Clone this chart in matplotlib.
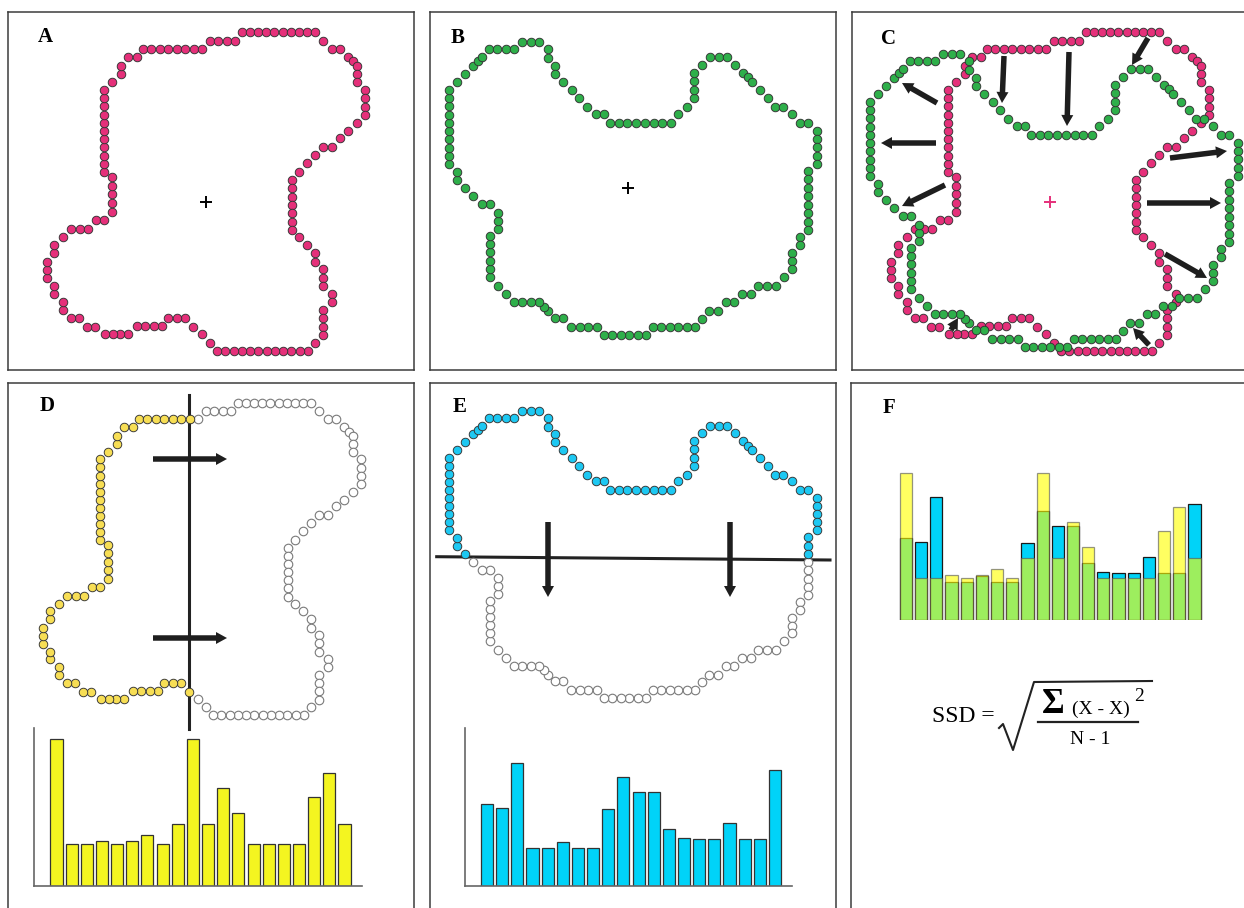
import numpy as np
import matplotlib.pyplot as plt

plt.rcParams['font.family'] = ['Liberation Serif', 'DejaVu Serif']

# outline of shape A, corner dots in panel pixels (y points down)
shape_a_x = [234, 307, 315, 324, 332, 340, 349, 349, 357, 357, 349, 340, 332, 324, 315, 307, 299, 291, 284, 284,
             291, 299, 307, 307, 315, 315, 324, 324, 315, 315, 307, 300, 209, 202, 194, 185, 177, 160, 154, 129,
             120, 97, 87, 79, 71, 63, 55, 55, 46, 46, 39, 39, 46, 46, 55, 63, 80, 88, 96, 104,
             104, 96, 96, 104, 113, 113, 120, 129, 135, 194, 202, 227]
shape_a_y = [20, 20, 29, 37, 37, 45, 54, 70, 78, 103, 111, 119, 126, 135, 135, 143, 151, 160, 168, 218,
             225, 233, 241, 250, 257, 274, 282, 290, 298, 323, 331, 339, 339, 331, 322, 315, 306, 306, 314, 314,
             322, 322, 315, 315, 306, 306, 298, 290, 282, 274, 266, 250, 241, 233, 225, 217, 217, 208, 208, 200,
             165, 160, 78, 70, 62, 54, 45, 45, 37, 37, 29, 29]

# outline of shape B
shape_b_x = [92, 109, 118, 118, 125, 125, 133, 142, 149, 157, 166, 174, 180, 241, 248, 257, 264, 264, 272, 280,
             297, 305, 313, 322, 330, 338, 345, 353, 362, 370, 378, 387, 387, 378, 378, 370, 370, 362, 362, 354,
             346, 328, 321, 312, 304, 296, 288, 279, 272, 265, 223, 216, 174, 167, 141, 133, 125, 118, 109, 84,
             76, 68, 60, 60, 68, 68, 60, 52, 43, 35, 27, 27, 19, 19, 27, 35, 43, 52, 59, 84]
shape_b_y = [30, 30, 37, 46, 54, 62, 70, 78, 86, 95, 102, 102, 111, 111, 102, 95, 86, 61, 53, 45,
             45, 53, 61, 70, 78, 86, 95, 95, 102, 111, 111, 119, 152, 159, 218, 225, 233, 241, 257, 265,
             274, 274, 282, 282, 290, 290, 299, 299, 307, 315, 315, 323, 323, 315, 315, 306, 306, 299, 290, 290,
             282, 274, 265, 224, 217, 201, 192, 192, 184, 176, 168, 160, 152, 78, 70, 62, 54, 45, 37, 37]

center_a = (198, 190)
center_b = (198, 176)

# width profiles (pixels) measured along the cut lines
profile_d = [147, 42, 42, 45, 42, 45, 51, 42, 62, 147, 62, 98, 73, 42, 42, 42, 42, 89, 113, 62]
profile_e = [82, 78, 123, 38, 38, 44, 38, 38, 77, 109, 94, 94, 57, 48, 47, 47, 63, 47, 47, 116]

# arrows in panel C: tail -> head
arrow_c_x0 = [152, 217, 296, 85, 84, 93, 318, 295, 313, 99, 297]
arrow_c_y0 = [44, 40, 26, 91, 131, 173, 146, 191, 242, 318, 333]
arrow_c_x1 = [150, 215, 280, 50, 29, 50, 375, 369, 355, 106, 281]
arrow_c_y1 = [91, 114, 53, 71, 131, 194, 139, 191, 266, 306, 316]

MAGENTA = '#E5307A'
GREEN = '#2EAF4A'
YELLOW_DOT = '#F7DE55'
CYAN_DOT = '#1DC8F2'
YELLOW_BAR = '#F4F520'
CYAN_BAR = '#00D3F8'

W, H = 1244, 908
fig = plt.figure(figsize=(W / 100, H / 100), dpi=100)


def panel(left, top, right, bottom, label, lx, ly):
    ax = fig.add_axes([left / W, 1 - bottom / H, (right - left) / W, (bottom - top) / H])
    ax.set_xlim(0, right - left)
    ax.set_ylim(bottom - top, 0)
    ax.set_xticks([])
    ax.set_yticks([])
    for s in ax.spines.values():
        s.set_color('#3c3c3c')
        s.set_linewidth(1.1)
    ax.text(lx, ly, label, fontsize=15, weight='bold', ha='center', va='center')
    return ax


def outline_dots(xs, ys, step=8.2):
    px, py = [], []
    n = len(xs)
    for i in range(n):
        x0, y0 = xs[i], ys[i]
        x1, y1 = xs[(i + 1) % n], ys[(i + 1) % n]
        k = max(1, int(round(np.hypot(x1 - x0, y1 - y0) / step)))
        for j in range(k):
            px.append(x0 + (x1 - x0) * j / k)
            py.append(y0 + (y1 - y0) * j / k)
    return np.array(px), np.array(py)


def dots(ax, x, y, face, edge='#333333', lw=0.65):
    ax.scatter(x, y, s=38, color=face, edgecolors=edge, linewidths=lw, zorder=3)


def arrow(ax, x0, y0, x1, y1):
    ax.arrow(x0, y0, x1 - x0, y1 - y0, width=5.5, head_width=12, head_length=11,
             length_includes_head=True, fc='#1e1e1e', ec='none', zorder=4)


ax_x, ax_y = outline_dots(shape_a_x, shape_a_y)
bx_x, bx_y = outline_dots(shape_b_x, shape_b_y)

# A
axA = panel(8, 12, 414, 370, 'A', 37, 25)
dots(axA, ax_x, ax_y, MAGENTA)
axA.plot(*center_a, marker='+', ms=8, mew=1.4, color='k')

# B
axB = panel(430, 12, 836, 370, 'B', 28, 26)
dots(axB, bx_x, bx_y, GREEN)
axB.plot(*center_b, marker='+', ms=8, mew=1.4, color='k')

# C: both outlines overlaid
axC = panel(852, 12, 1260, 370, 'C', 37, 27)
dots(axC, ax_x, ax_y, MAGENTA)
dots(axC, bx_x - 1, bx_y + 12, GREEN)
axC.plot(*center_a, marker='+', ms=8, mew=1.4, color=MAGENTA)
for i in range(len(arrow_c_x0)):
    arrow(axC, arrow_c_x0[i], arrow_c_y0[i], arrow_c_x1[i], arrow_c_y1[i])

# D: vertical sweep over shape A
axD = panel(8, 383, 414, 930, 'D', 39, 23)
dx, dy = ax_x - 4, ax_y * 0.98
left_side = dx < 184
dots(axD, dx[~left_side], dy[~left_side], 'white', edge='#7a7a7a', lw=0.8)
dots(axD, dx[left_side], dy[left_side], YELLOW_DOT)
axD.plot([181, 181], [12, 346], color='#222222', lw=2.2, zorder=2)
arrow(axD, 145, 76, 219, 76)
arrow(axD, 145, 255, 219, 255)

# E: horizontal sweep over shape B
axE = panel(430, 383, 836, 930, 'E', 30, 24)
ex, ey = bx_x, bx_y * 0.98 - 1.5
line_x = [6.7, 400]
line_y = [173.7, 177]
above = ey < np.interp(ex, line_x, line_y)
dots(axE, ex[~above], ey[~above], 'white', edge='#7a7a7a', lw=0.8)
dots(axE, ex[above], ey[above], CYAN_DOT)
axE.plot(line_x, line_y, color='#222222', lw=2.2, zorder=2)
arrow(axE, 118, 139, 118, 214)
arrow(axE, 300, 139, 300, 214)

# F
axF = panel(851, 383, 1260, 930, 'F', 38, 25)
axF.text(81, 333, 'SSD =', fontsize=17, ha='left', va='center')
axF.text(202, 321, '\u03a3', fontsize=25, weight='bold', ha='center', va='center')
axF.text(221, 326, '(X - X)', fontsize=14, ha='left', va='center')
axF.text(283, 313, '2', fontsize=14, ha='left', va='center')
axF.plot([187, 287], [339, 339], color='#222222', lw=1.6)
axF.text(239, 356, 'N - 1', fontsize=14, ha='center', va='center')
axF.plot([148, 152, 162, 183, 301], [345, 341, 367, 299, 298], color='#222222', lw=1.5)

idx = np.arange(len(profile_d))


def bar_axes(left, top, right, bottom, x0, x1, spines=True):
    ax = fig.add_axes([left / W, 1 - bottom / H, (right - left) / W, (bottom - top) / H])
    ax.set_xlim(x0, x1)
    ax.set_ylim(0, bottom - top)
    ax.patch.set_alpha(0)
    ax.set_xticks([])
    ax.set_yticks([])
    for name, s in ax.spines.items():
        if spines and name in ('left', 'bottom'):
            s.set_color('#666666')
            s.set_linewidth(1.2)
        else:
            s.set_visible(False)
    return ax


bD = bar_axes(34, 728, 362, 886, -1.48, 20.15)
bD.bar(idx, profile_d, width=0.8, color=YELLOW_BAR, edgecolor='#333333', linewidth=0.9)

bE = bar_axes(465, 728, 792, 886, -1.45, 20.12)
bE.bar(idx, profile_e, width=0.8, color=CYAN_BAR, edgecolor='#333333', linewidth=0.9)

bF = bar_axes(880, 460, 1220, 620, -1.71, 20.68, spines=False)
bF.bar(idx, profile_e, width=0.8, color=CYAN_BAR, edgecolor='#1a1a1a', linewidth=0.9)
bF.bar(idx, profile_d, width=0.8, color='#FFFF00', alpha=0.62, edgecolor='#555555', linewidth=0.9)

fig.savefig('out.png', dpi=100)
